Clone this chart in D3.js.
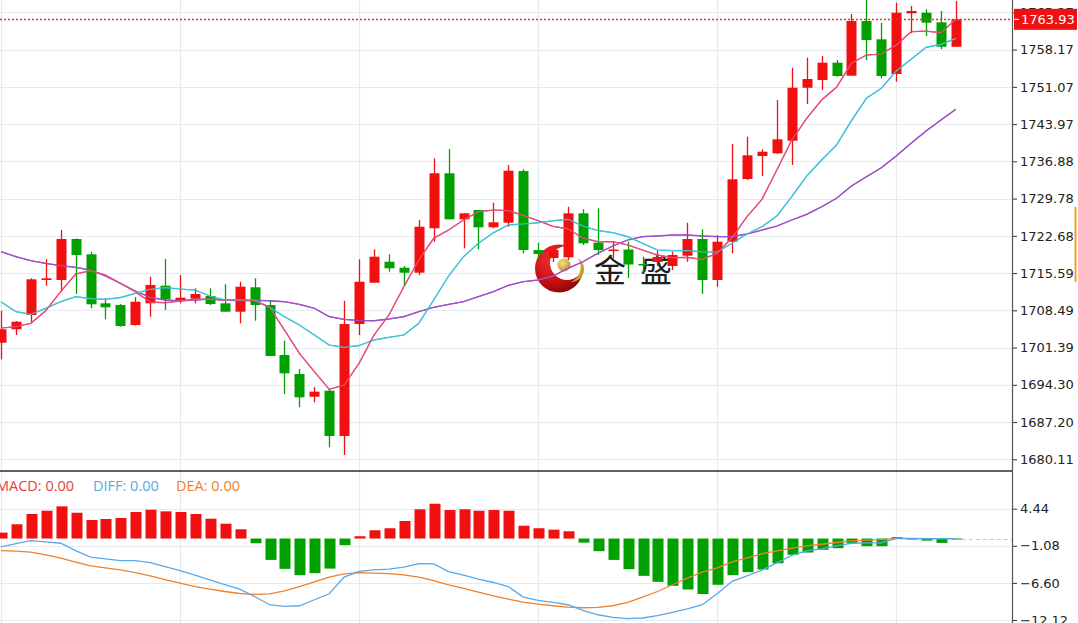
<!DOCTYPE html>
<html><head><meta charset="utf-8">
<script src="https://cdn.jsdelivr.net/npm/d3@7/dist/d3.min.js"></script>
<style>
html,body{margin:0;padding:0;background:#fff;overflow:hidden;}
svg{display:block;}
</style></head>
<body>
<svg id="chart" width="1078" height="623"></svg>
<script>
// ---------- data ----------
const opens = [1702.32,1704.88,1707.60,1714.27,1714.27,1722.08,1719.16,1709.83,1709.50,1705.69,1709.83,1713.18,1710.46,1710.70,1711.22,1709.83,1708.23,1712.88,1709.50,1699.98,1696.36,1692.03,1693.18,1684.55,1705.88,1713.75,1717.75,1716.61,1715.66,1724.12,1734.60,1725.83,1727.60,1724.31,1725.18,1735.03,1719.98,1718.46,1718.59,1726.97,1721.37,1719.88,1720.07,1717.32,1717.70,1716.94,1718.90,1722.08,1714.27,1721.56,1733.51,1737.89,1738.40,1740.80,1750.90,1752.37,1755.67,1753.19,1763.61,1760.12,1753.51,1765.08,1765.19,1763.36,1758.71];
const closes = [1704.88,1706.32,1714.40,1714.59,1722.08,1719.03,1709.64,1709.07,1705.50,1710.13,1713.31,1710.59,1710.90,1711.60,1709.69,1708.23,1712.99,1709.50,1699.79,1696.49,1691.92,1692.99,1684.55,1705.88,1713.94,1718.71,1716.50,1715.66,1724.42,1734.60,1725.83,1726.97,1724.31,1725.26,1735.09,1719.98,1719.22,1719.98,1726.97,1721.26,1719.98,1720.07,1717.22,1717.13,1718.65,1719.03,1722.08,1714.27,1721.56,1733.45,1738.02,1738.71,1741.07,1750.90,1752.56,1755.67,1753.13,1763.61,1759.99,1753.13,1765.19,1765.52,1763.29,1758.71,1763.93];
const highs = [1708.42,1706.46,1714.59,1718.27,1723.79,1722.20,1719.66,1710.78,1709.69,1710.97,1714.90,1718.27,1715.22,1712.69,1712.69,1713.45,1713.94,1714.59,1710.32,1702.70,1697.31,1693.83,1693.45,1710.32,1718.21,1720.12,1719.16,1716.94,1725.70,1737.45,1739.22,1726.97,1727.60,1728.99,1736.17,1735.36,1721.37,1720.75,1728.23,1727.74,1727.93,1721.70,1721.56,1718.71,1719.79,1719.66,1725.18,1723.93,1722.84,1740.18,1741.57,1739.17,1748.56,1754.71,1756.62,1756.94,1756.18,1764.94,1767.60,1763.29,1767.10,1766.47,1765.84,1765.52,1767.42];
const lows = [1699.16,1703.79,1706.13,1713.18,1712.04,1711.60,1708.88,1706.78,1705.37,1705.60,1707.28,1708.55,1709.83,1709.83,1709.50,1708.23,1706.02,1706.51,1699.79,1692.55,1690.02,1690.97,1682.40,1680.93,1703.79,1713.75,1715.85,1712.99,1715.22,1721.56,1725.83,1720.30,1720.12,1724.12,1724.42,1719.35,1718.59,1717.70,1718.08,1720.94,1719.03,1718.46,1714.65,1715.54,1716.94,1716.18,1717.75,1711.60,1712.99,1719.35,1733.32,1734.08,1738.27,1736.18,1747.80,1750.46,1753.00,1753.19,1756.18,1752.69,1752.05,1761.27,1760.75,1758.22,1758.71];
const ma5 = [1705.12,1705.37,1706.02,1708.42,1712.04,1715.41,1716.04,1715.22,1713.64,1712.04,1710.08,1709.94,1710.27,1710.59,1710.59,1710.46,1710.46,1710.32,1709.07,1704.74,1700.30,1696.80,1693.44,1694.26,1698.40,1703.79,1707.60,1712.99,1718.08,1722.21,1723.79,1725.70,1727.28,1727.60,1727.47,1726.59,1725.56,1724.50,1724.02,1722.27,1721.56,1721.56,1720.94,1719.98,1719.03,1718.52,1718.59,1718.21,1719.35,1722.36,1726.33,1729.64,1735.22,1740.94,1745.07,1748.56,1750.98,1755.55,1757.13,1757.32,1759.04,1761.57,1761.70,1761.38,1763.93];
const ma10 = [1710.13,1708.23,1707.73,1708.88,1710.13,1711.09,1710.71,1710.59,1710.90,1711.73,1712.50,1712.80,1712.55,1712.36,1711.22,1710.46,1710.46,1710.46,1709.07,1707.28,1705.69,1703.79,1701.88,1701.45,1701.79,1702.84,1703.35,1703.79,1706.02,1710.46,1715.03,1718.71,1721.26,1723.26,1724.75,1724.94,1725.18,1725.56,1725.83,1724.55,1723.70,1723.28,1722.52,1721.26,1719.98,1719.85,1719.89,1719.60,1719.60,1721.26,1723.03,1724.42,1726.46,1730.14,1734.08,1737.13,1739.99,1744.62,1748.88,1750.79,1754.08,1756.31,1758.60,1759.17,1760.31];
const ma20 = [1719.66,1718.71,1717.94,1717.45,1716.99,1716.69,1716.17,1715.03,1713.64,1712.17,1710.97,1710.46,1710.32,1710.46,1710.65,1710.46,1710.32,1710.40,1710.32,1710.13,1709.64,1708.88,1707.28,1706.78,1706.55,1706.51,1706.84,1707.28,1708.23,1709.07,1709.64,1710.13,1711.09,1712.04,1713.26,1713.94,1714.27,1715.03,1716.50,1717.75,1719.35,1720.74,1721.89,1722.52,1722.65,1722.84,1722.84,1722.65,1722.52,1722.55,1723.03,1723.79,1724.55,1725.70,1726.78,1728.23,1729.83,1732.18,1733.95,1735.66,1737.89,1740.31,1742.65,1744.75,1746.79];
const macdHist = [0.88,2.12,3.65,4.14,4.79,3.84,2.76,2.91,3.06,3.95,4.29,4.05,3.95,3.65,2.95,2.21,1.38,-0.70,-3.18,-4.51,-5.45,-5.15,-4.47,-0.99,0.34,1.23,1.53,2.61,4.35,5.18,4.24,4.35,4.14,4.24,4.14,1.91,1.53,1.32,1.08,-0.61,-1.88,-3.18,-4.55,-5.55,-6.44,-7.03,-7.58,-8.26,-6.88,-5.45,-5.00,-4.61,-3.68,-2.42,-2.08,-1.68,-1.44,-0.70,-1.14,-1.14,0.20,-0.05,-0.31,-0.65,-0.05];
const diffLine = [-1.25,-0.76,-0.31,-0.50,-0.70,-1.80,-2.77,-3.03,-3.28,-3.28,-3.58,-4.17,-4.76,-5.45,-6.14,-6.84,-7.52,-8.62,-9.85,-10.10,-10.00,-9.11,-8.22,-5.74,-4.88,-4.66,-4.55,-4.26,-3.72,-3.77,-4.91,-5.45,-6.04,-6.54,-7.14,-8.71,-9.21,-9.51,-9.85,-10.70,-11.34,-11.74,-11.93,-11.82,-11.48,-10.99,-10.45,-9.85,-8.22,-6.37,-5.55,-4.70,-3.62,-2.51,-1.84,-1.54,-1.10,-0.70,-0.65,-0.65,0.03,0.01,0.00,-0.01,0.00];
const deaLine = [-1.80,-1.88,-2.03,-2.43,-2.92,-3.52,-4.07,-4.36,-4.66,-5.06,-5.55,-6.10,-6.63,-7.14,-7.52,-7.88,-8.18,-8.32,-8.22,-7.77,-7.14,-6.44,-5.74,-5.25,-5.06,-5.15,-5.21,-5.40,-5.74,-6.25,-6.88,-7.43,-7.97,-8.52,-9.01,-9.45,-9.75,-10.00,-10.19,-10.30,-10.25,-10.00,-9.51,-8.71,-7.88,-6.88,-5.89,-5.00,-4.36,-3.47,-2.88,-2.27,-1.84,-1.44,-1.10,-0.85,-0.59,-0.36,-0.24,-0.16,0.03,0.00,0.00,0.00,0.00];
const priceTicks = [1680.11,1687.20,1694.30,1701.39,1708.49,1715.59,1722.68,1729.78,1736.88,1743.97,1751.07,1758.17,1765.27];
const macdTicks = [4.44,-1.08,-6.60,-12.12];
const lastPrice = 1763.93;
const legendItems = [{label:"MACD", value:"0.00"},{label:"DIFF", value:"0.00"},{label:"DEA", value:"0.00"}];
const logoText = ["金","盛"];

// ---------- layout ----------
const W = 1078, H = 623, plotR = 1012;
const mainTop = 0, mainBot = 471;
const svg = d3.select("#chart");
const n = closes.length;
const idx = d3.range(n);

const x = d3.scaleLinear().domain([0, n - 1]).range([1, 1 + (n - 1) * 14.92]);
const y = d3.scaleLinear().domain([1680.11, 1765.27]).range([459.3, 12.3]);
const ym = d3.scaleLinear().domain([-12.12, 4.44]).range([620, 508.7]);
const bw = 10;

const UP = "#f01010", DOWN = "#00a000", GRID = "#e6ebf1";

const defs = svg.append("defs");
defs.append("clipPath").attr("id","cMain").append("rect").attr("x",0).attr("y",0).attr("width",plotR).attr("height",mainBot);
defs.append("clipPath").attr("id","cMacd").append("rect").attr("x",0).attr("y",mainBot+1).attr("width",plotR).attr("height",H-mainBot);

// grid
const grid = svg.append("g");
priceTicks.forEach(t => grid.append("line").attr("x1",0).attr("x2",plotR)
  .attr("y1",Math.round(y(t))+0.5).attr("y2",Math.round(y(t))+0.5).attr("stroke",GRID).attr("stroke-width",1.2));
macdTicks.forEach(t => grid.append("line").attr("x1",0).attr("x2",plotR)
  .attr("y1",Math.round(ym(t))+0.5).attr("y2",Math.round(ym(t))+0.5).attr("stroke",GRID).attr("stroke-width",1.2));
idx.filter(i => i % 12 === 0).forEach(i => grid.append("line")
  .attr("x1",Math.round(x(i))+0.5).attr("x2",Math.round(x(i))+0.5).attr("y1",0).attr("y2",H)
  .attr("stroke",GRID).attr("stroke-width",1.2));

// watermark logo
const lg = svg.append("g");
const rg = defs.append("radialGradient").attr("id","redG").attr("cx","35%").attr("cy","30%").attr("r","80%");
rg.append("stop").attr("offset","0%").attr("stop-color","#f03030");
rg.append("stop").attr("offset","60%").attr("stop-color","#c81010");
rg.append("stop").attr("offset","100%").attr("stop-color","#7a0606");
const gg = defs.append("radialGradient").attr("id","goldG").attr("cx","40%").attr("cy","35%").attr("r","70%");
gg.append("stop").attr("offset","0%").attr("stop-color","#f5e08a");
gg.append("stop").attr("offset","100%").attr("stop-color","#b8901e");
const mask = defs.append("mask").attr("id","crescent");
mask.append("rect").attr("x",0).attr("y",0).attr("width",W).attr("height",H).attr("fill","#fff");
mask.append("circle").attr("cx",567).attr("cy",263).attr("r",17).attr("fill","#000");
lg.append("circle").attr("cx",559).attr("cy",268.5).attr("r",24).attr("fill","url(#redG)").attr("mask","url(#crescent)");
lg.append("path").attr("d","M578,258 A16,16 0 0,1 570,282 A13,13 0 0,0 578,258 Z").attr("fill","#c9a030");
lg.append("circle").attr("cx",564).attr("cy",265).attr("r",6.5).attr("fill","url(#goldG)");
logoText.forEach((t,i) => lg.append("text").attr("x",594 + i*46).attr("y",282)
  .attr("font-family","'Noto Sans CJK SC','Noto Sans CJK JP',sans-serif").attr("font-size",32)
  .attr("fill","#1e1e1e").text(t));

// moving averages
const gMain = svg.append("g").attr("clip-path","url(#cMain)");
const maLine = arr => d3.line().x(i => x(i)).y(i => y(arr[i]))(idx);
[[ma20,"#a050c8"],[ma10,"#45c4d8"],[ma5,"#e8507e"]].forEach(([arr,c]) =>
  gMain.append("path").attr("d",maLine(arr)).attr("fill","none").attr("stroke",c).attr("stroke-width",1.3));

// candles
const cg = gMain.append("g");
idx.forEach(i => {
  const up = closes[i] >= opens[i];
  const col = up ? UP : DOWN;
  const cx = Math.round(x(i)) + 0.5;
  cg.append("line").attr("x1",cx).attr("x2",cx).attr("y1",y(highs[i])).attr("y2",y(lows[i]))
    .attr("stroke",col).attr("stroke-width",1.3);
  const top = y(Math.max(opens[i],closes[i])), bot = y(Math.min(opens[i],closes[i]));
  cg.append("rect").attr("x",Math.round(x(i)) - bw/2 + 0.5).attr("y",top).attr("width",bw)
    .attr("height",Math.max(1.5,bot-top)).attr("fill",col);
});
// redraw MA lines lightly over candles like reference (lines appear on top)
[[ma20,"#a050c8"],[ma10,"#45c4d8"],[ma5,"#e8507e"]].forEach(([arr,c]) =>
  gMain.append("path").attr("d",maLine(arr)).attr("fill","none").attr("stroke",c).attr("stroke-width",1.2));

// last price dotted line
svg.append("line").attr("x1",0).attr("x2",plotR).attr("y1",Math.round(y(lastPrice))+0.5).attr("y2",Math.round(y(lastPrice))+0.5)
  .attr("stroke","#e83030").attr("stroke-width",1.3).attr("stroke-dasharray","2,2");

// separator
svg.append("line").attr("x1",0).attr("x2",plotR).attr("y1",mainBot).attr("y2",mainBot).attr("stroke","#2a2a2a").attr("stroke-width",1.5);

// MACD panel
const gM = svg.append("g").attr("clip-path","url(#cMacd)");
idx.forEach(i => {
  const v = macdHist[i];
  const y0 = ym(0), y1 = ym(v);
  gM.append("rect").attr("x",Math.round(x(i)) - bw/2 + 0.5).attr("y",Math.min(y0,y1)).attr("width",bw+1)
    .attr("height",Math.max(1,Math.abs(y1-y0))).attr("fill", v >= 0 ? UP : DOWN);
});
const mLine = arr => d3.line().x(i => x(i)).y(i => ym(arr[i]))(idx);
gM.append("path").attr("d",mLine(deaLine)).attr("fill","none").attr("stroke","#f0802a").attr("stroke-width",1.3);
gM.append("path").attr("d",mLine(diffLine)).attr("fill","none").attr("stroke","#5aa8e8").attr("stroke-width",1.3);
svg.append("line").attr("x1",x(n-1)+6).attr("x2",plotR).attr("y1",Math.round(ym(0))+0.5).attr("y2",Math.round(ym(0))+0.5)
  .attr("stroke","#a8d8e4").attr("stroke-width",1.2).attr("stroke-dasharray","4,3");

// legend
const legColors = ["#e8403a","#5aa8e8","#f0802a"];
const legX = [-4, 93, 176];
legendItems.forEach((d,i) => svg.append("text").attr("x",legX[i]).attr("y",491)
  .attr("font-family","'Open Sans','Noto Sans',sans-serif").attr("font-size",14.5).attr("fill",legColors[i])
  .text(d.label + ": " + d.value));

// right axes
const axG = svg.append("g").attr("transform",`translate(${plotR},0)`);
const pAxis = d3.axisRight(y).tickValues(priceTicks).tickFormat(d3.format(".2f")).tickSize(5).tickPadding(3);
axG.append("g").call(pAxis);
const mAxis = d3.axisRight(ym).tickValues(macdTicks).tickFormat(d3.format(".2f")).tickSize(5).tickPadding(3);
axG.append("g").call(mAxis);
axG.selectAll(".domain").remove();
axG.selectAll(".tick line").attr("stroke","#333");
axG.selectAll(".tick text").attr("font-family","'DejaVu Sans',sans-serif").attr("font-size",13).attr("fill","#222");
svg.append("line").attr("x1",plotR+0.5).attr("x2",plotR+0.5).attr("y1",0).attr("y2",H).attr("stroke","#555").attr("stroke-width",1.2);

// last price label
const ly = y(lastPrice);
svg.append("rect").attr("x",plotR+2).attr("y",ly-10.5).attr("width",63).attr("height",21).attr("fill","#ee1111");
svg.append("line").attr("x1",plotR+2).attr("x2",plotR+7).attr("y1",ly).attr("y2",ly).attr("stroke","#fff").attr("stroke-width",1);
svg.append("text").attr("x",plotR+9).attr("y",ly).attr("dy","0.36em")
  .attr("font-family","'DejaVu Sans',sans-serif").attr("font-size",13).attr("fill","#fff").text(d3.format(".2f")(lastPrice));

// small orange marker at right edge
svg.append("line").attr("x1",1075.5).attr("x2",1075.5).attr("y1",207).attr("y2",282).attr("stroke","#f0a028").attr("stroke-width",2);
</script>
</body></html>
